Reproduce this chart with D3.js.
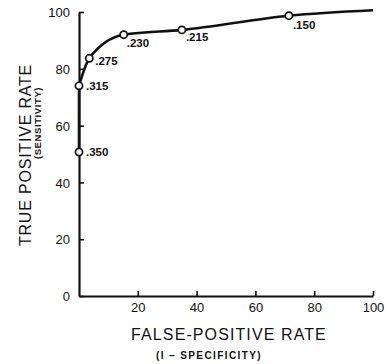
<!DOCTYPE html>
<html>
<head>
<meta charset="utf-8">
<script src="https://cdn.jsdelivr.net/npm/d3@7"></script>
<style>
  body { margin: 0; background: #fff; }
  svg text { font-family: "Liberation Sans", Arial, sans-serif; fill: #111; }
</style>
</head>
<body>
<div id="chart"></div>
<script>
// ROC curve points (false-positive rate %, true-positive rate %) with cutoff labels
const fpr = [0, 0, 3.5, 15.2, 35, 71.4, 100];
const tpr = [50.7, 74, 83.7, 92, 93.7, 98.7, 100.6];
const cutoffs = [".350", ".315", ".275", ".230", ".215", ".150", null];
const xTicks = [20, 40, 60, 80, 100];
const yTicks = [0, 20, 40, 60, 80, 100];

const W = 385, H = 364;
// axis origin at (79, 296)
const margin = { top: 12, right: 12, bottom: 68, left: 79 };

const svg = d3.select("#chart").append("svg")
    .attr("width", W)
    .attr("height", H);

const x = d3.scaleLinear().domain([0, 100]).range([margin.left, W - margin.right]);
const y = d3.scaleLinear().domain([0, 100]).range([H - margin.bottom, margin.top]);

// x axis, ticks pointing up
const gx = svg.append("g")
    .attr("transform", "translate(0," + y(0) + ")")
    .call(d3.axisBottom(x).tickValues(xTicks).tickSizeInner(-5).tickSizeOuter(0).tickPadding(7));

// y axis, ticks pointing right
const gy = svg.append("g")
    .attr("transform", "translate(" + x(0) + ",0)")
    .call(d3.axisLeft(y).tickValues(yTicks).tickSizeInner(-5).tickSizeOuter(0).tickPadding(9));

[gx, gy].forEach(g => {
    g.select(".domain").attr("stroke", "#111").attr("stroke-width", 2.2);
    g.selectAll(".tick line").attr("stroke", "#111").attr("stroke-width", 1.6);
    g.selectAll(".tick text")
        .style("font-family", "'Liberation Sans', Arial, sans-serif")
        .style("font-size", "13px")
        .attr("fill", "#111");
});
gy.selectAll(".tick text").attr("dy", "0.36em");

const pts = fpr.map((d, i) => ({ fx: d, tp: tpr[i], label: cutoffs[i] }));

// the first stretch runs straight up the y axis, the rest is a smooth curve
const straight = d3.line().x(d => x(d.fx)).y(d => y(d.tp));
const smooth = d3.line().x(d => x(d.fx)).y(d => y(d.tp)).curve(d3.curveMonotoneX);

svg.append("path")
    .attr("d", straight(pts.slice(0, 2)))
    .attr("fill", "none")
    .attr("stroke", "#111")
    .attr("stroke-width", 2.6);

svg.append("path")
    .attr("d", smooth(pts.slice(1)))
    .attr("fill", "none")
    .attr("stroke", "#111")
    .attr("stroke-width", 2.6);

const marked = pts.filter(d => d.label);

svg.selectAll("circle.pt")
    .data(marked)
    .enter()
    .append("circle")
    .attr("class", "pt")
    .attr("cx", d => x(d.fx))
    .attr("cy", d => y(d.tp))
    .attr("r", 3.6)
    .attr("fill", "#fff")
    .attr("stroke", "#111")
    .attr("stroke-width", 1.7);

// label offsets (dx, dy) relative to each marker
const labelOffset = [[7, 4], [7, 4], [6, 7], [3, 12], [4, 11], [4, 13]];

svg.selectAll("text.pt-label")
    .data(marked)
    .enter()
    .append("text")
    .attr("class", "pt-label")
    .attr("x", (d, i) => x(d.fx) + labelOffset[i][0])
    .attr("y", (d, i) => y(d.tp) + labelOffset[i][1])
    .style("font-size", "11.5px")
    .style("font-weight", "bold")
    .text(d => d.label);

// x axis titles
svg.append("text")
    .attr("x", 229)
    .attr("y", 340)
    .attr("text-anchor", "middle")
    .style("font-size", "16px")
    .style("letter-spacing", "1.1px")
    .text("FALSE-POSITIVE RATE");

svg.append("text")
    .attr("x", 209)
    .attr("y", 359)
    .attr("text-anchor", "middle")
    .style("font-size", "10px")
    .style("font-weight", "bold")
    .style("letter-spacing", "1.4px")
    .text("(I – SPECIFICITY)");

// y axis titles
svg.append("text")
    .attr("transform", "translate(31,155) rotate(-90)")
    .attr("text-anchor", "middle")
    .style("font-size", "16px")
    .style("letter-spacing", "0.8px")
    .text("TRUE POSITIVE RATE");

svg.append("text")
    .attr("transform", "translate(41,123) rotate(-90)")
    .attr("text-anchor", "middle")
    .style("font-size", "9.5px")
    .style("font-weight", "bold")
    .style("letter-spacing", "0.6px")
    .text("(SENSITIVITY)");
</script>
</body>
</html>
